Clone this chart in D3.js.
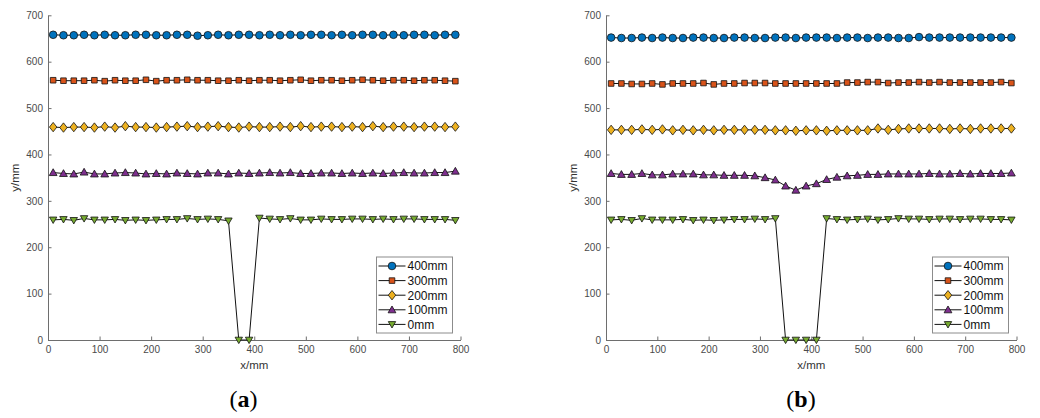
<!DOCTYPE html>
<html>
<head>
<meta charset="utf-8">
<script src="https://cdn.jsdelivr.net/npm/d3@7"></script>
<style>
  html, body { margin: 0; padding: 0; background: #fff; }
  svg { display: block; }
</style>
</head>
<body>
<svg id="chart" width="1040" height="418"></svg>
<script>
// ---------- DATA ----------
const xPositions = [10,30,50,70,90,110,130,150,170,190,210,230,250,270,290,310,330,350,370,390,
                    410,430,450,470,490,510,530,550,570,590,610,630,650,670,690,710,730,750,770,790];

const seriesNames = ["400mm", "300mm", "200mm", "100mm", "0mm"];
const xTicks = [0,100,200,300,400,500,600,700,800];
const yTicks = [0,100,200,300,400,500,600,700];

// panel (a)
const a400 = [658,657,657,658,657,658,657,657,658,658, 657,657,658,658,656,657,658,657,658,658,
              657,658,657,658,657,658,658,657,658,657, 658,658,657,658,657,658,658,657,658,658];
const a300 = [560,559,559,559,560,558,560,559,559,561, 558,560,560,561,560,560,559,559,560,559,
              560,560,559,560,561,559,560,560,559,560, 561,560,559,560,560,559,560,560,559,558];
const a200 = [459,458,459,459,458,460,458,461,459,459, 458,459,460,461,459,460,461,459,458,460,
              459,459,460,459,461,459,460,460,459,460, 459,461,459,460,460,459,460,460,459,460];
const a100 = [361,359,358,362,358,358,360,361,360,358, 359,358,360,359,358,360,360,358,360,359,
              360,361,360,361,359,359,360,360,359,360, 359,360,359,360,361,360,360,361,361,364];
const a0   = [259,260,258,262,259,259,260,258,259,258, 259,260,260,262,260,261,260,257,0,0,
              263,261,260,262,259,259,261,260,260,261, 261,260,261,260,261,261,260,260,260,258];

// panel (b)
const b400 = [652,651,651,652,651,652,651,651,652,652, 651,651,652,652,651,651,652,652,651,652,
              652,652,651,652,652,651,652,652,651,651, 653,652,652,652,652,652,652,652,652,652];
const b300 = [553,553,552,552,553,551,553,553,553,554, 551,553,553,554,554,554,553,553,553,553,
              553,553,553,555,555,556,556,554,555,555, 556,555,556,555,555,555,555,555,556,554];
const b200 = [453,453,453,454,453,454,452,453,452,453, 452,453,453,453,453,453,452,452,451,452,
              452,451,452,452,452,452,456,453,455,456, 456,456,456,455,456,455,456,456,456,456];
const b100 = [359,357,357,359,356,356,358,358,358,356, 356,355,355,355,354,350,345,332,323,332,
              337,346,351,354,355,357,357,358,358,358, 358,359,358,358,359,358,359,359,359,360];
const b0   = [259,260,258,262,259,259,259,260,258,259, 258,259,260,260,261,260,262,0,0,0,
              0,262,260,259,260,261,259,260,262,261, 261,260,261,261,260,261,261,260,260,259];

const colors = ["#0072BD", "#D95319", "#EDB120", "#7E2F8E", "#77AC30"];
const markerTypes = ["circle", "square", "diamond", "triUp", "triDown"];

// ---------- DRAW ----------
const svg = d3.select("#chart");

function markerPath(type) {
  switch (type) {
    case "circle":  return d3.symbol(d3.symbolCircle, 46)();
    case "square":  return "M-2.8,-2.8H2.8V2.8H-2.8Z";
    case "diamond": return "M0,-4.7L3.7,0L0,4.7L-3.7,0Z";
    case "triUp":   return "M0,-3.8L3.9,3L-3.9,3Z";
    case "triDown": return "M0,3.6L3.7,-2.8L-3.7,-2.8Z";
  }
}

const axisColor = "#6e6e6e";
const textColor = "#4a4a4a";
const sansFont = "'Liberation Sans', Arial, sans-serif";

function drawPanel(cfg) {
  const x = d3.scaleLinear().domain([0, 800]).range([cfg.left, cfg.right]);
  const y = d3.scaleLinear().domain([0, 700]).range([cfg.bottom, cfg.top]);
  const g = svg.append("g");

  // axes
  const xAxis = d3.axisBottom(x).tickValues(xTicks).tickSizeInner(-3.5).tickSizeOuter(0).tickPadding(6);
  const yAxis = d3.axisLeft(y).tickValues(yTicks).tickSizeInner(-3.5).tickSizeOuter(0).tickPadding(5);

  const gx = g.append("g").attr("transform", `translate(0,${cfg.bottom})`).call(xAxis);
  const gy = g.append("g").attr("transform", `translate(${cfg.left},0)`).call(yAxis);
  [gx, gy].forEach(a => {
    a.select(".domain").attr("stroke", axisColor).attr("stroke-width", 1);
    a.selectAll(".tick line").attr("stroke", axisColor).attr("stroke-width", 1);
    a.selectAll(".tick text").attr("fill", textColor).attr("font-size", 10).attr("font-family", sansFont);
  });

  // axis labels
  g.append("text")
    .attr("x", (cfg.left + cfg.right) / 2).attr("y", 369)
    .attr("text-anchor", "middle").attr("font-size", 11.5).attr("font-family", sansFont)
    .attr("fill", "#333").text("x/mm");
  g.append("text")
    .attr("transform", `translate(${cfg.left - 29},${(cfg.top + cfg.bottom) / 2}) rotate(-90)`)
    .attr("text-anchor", "middle").attr("font-size", 11.5).attr("font-family", sansFont)
    .attr("fill", "#333").text("y/mm");

  // series
  const line = d3.line().x(d => x(d[0])).y(d => y(d[1]));
  cfg.series.forEach((vals, i) => {
    const pts = xPositions.map((xv, j) => [xv, vals[j]]);
    const sg = g.append("g");
    sg.append("path").datum(pts).attr("d", line)
      .attr("fill", "none").attr("stroke", "#111").attr("stroke-width", 1);
    sg.selectAll("path.mk").data(pts).enter().append("path").attr("class", "mk")
      .attr("d", markerPath(markerTypes[i]))
      .attr("transform", d => `translate(${x(d[0])},${y(d[1])})`)
      .attr("fill", colors[i]).attr("stroke", "#111").attr("stroke-width", 0.8);
  });

  // legend
  const lw = 76, lh = 76;
  const lx = cfg.right - 8 - lw, ly = cfg.bottom - 7 - lh;
  const lg = g.append("g").attr("transform", `translate(${lx},${ly})`);
  lg.append("rect").attr("width", lw).attr("height", lh)
    .attr("fill", "#fff").attr("stroke", "#8c8c8c").attr("stroke-width", 1);
  seriesNames.forEach((name, i) => {
    const ry = 9 + i * 14.6;
    lg.append("line").attr("x1", 2).attr("x2", 29).attr("y1", ry).attr("y2", ry)
      .attr("stroke", "#111").attr("stroke-width", 1);
    lg.append("path").attr("d", markerPath(markerTypes[i]))
      .attr("transform", `translate(15.5,${ry})`)
      .attr("fill", colors[i]).attr("stroke", "#111").attr("stroke-width", 0.8);
    lg.append("text").attr("x", 31).attr("y", ry).attr("dy", "0.36em")
      .attr("font-size", 12).attr("font-family", sansFont).attr("fill", "#111").text(name);
  });

  // panel caption
  const cap = g.append("text")
    .attr("x", cfg.captionX).attr("y", 407)
    .attr("text-anchor", "middle").attr("font-size", 24)
    .attr("font-family", "'Liberation Serif', 'Times New Roman', serif").attr("fill", "#000");
  cap.append("tspan").text("(");
  cap.append("tspan").attr("font-weight", "bold").text(cfg.caption);
  cap.append("tspan").text(")");
}

drawPanel({ left: 48, right: 460.5, top: 15.3, bottom: 340,
            series: [a400, a300, a200, a100, a0], caption: "a", captionX: 243.5 });
drawPanel({ left: 606, right: 1016.5, top: 15.3, bottom: 340,
            series: [b400, b300, b200, b100, b0], caption: "b", captionX: 801 });
</script>
</body>
</html>
